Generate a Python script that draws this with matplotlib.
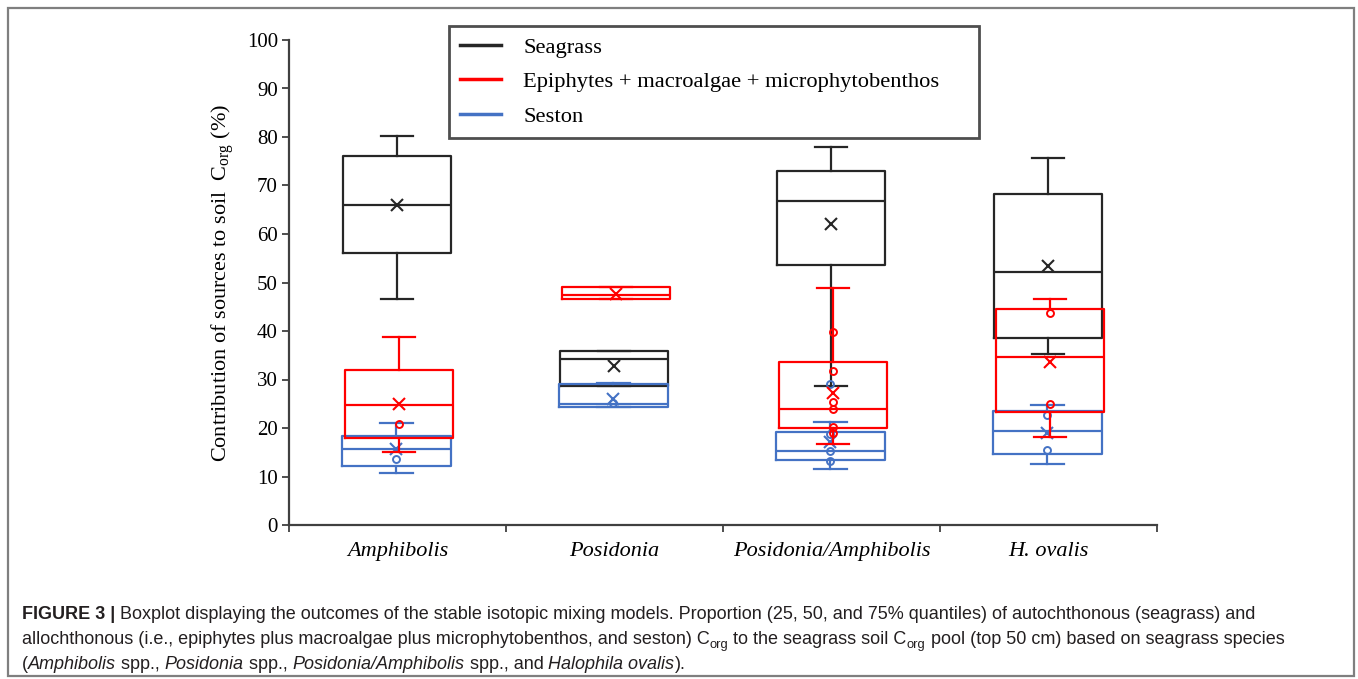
import matplotlib
matplotlib.use('Agg')
import matplotlib.pyplot as plt
from matplotlib.lines import Line2D
from matplotlib.patches import Rectangle
from matplotlib.transforms import IdentityTransform

plt.rcParams['font.family'] = 'Liberation Serif'
plt.rcParams['mathtext.fontset'] = 'custom'
plt.rcParams['mathtext.rm'] = 'Liberation Serif'
plt.rcParams['mathtext.it'] = 'Liberation Serif:italic'

species = ['Amphibolis', 'Posidonia', 'Posidonia/Amphibolis', 'H. ovalis']
sources = ['Seagrass', 'Epiphytes + macroalgae + microphytobenthos', 'Seston']

# values (%)
seagrass_lo = [46.6, 28.7, 28.7, 35.3]
seagrass_q1 = [56.1, 28.7, 53.6, 38.6]
seagrass_med = [65.9, 34.3, 66.9, 52.2]
seagrass_q3 = [76.1, 35.8, 73.0, 68.2]
seagrass_hi = [80.3, 35.8, 78.0, 75.6]
seagrass_mean = [66.0, 32.8, 62.1, 53.4]
seagrass_pts = [[], [], [], []]

epi_lo = [15.0, 46.5, 16.6, 18.1]
epi_q1 = [17.9, 46.5, 19.9, 23.4]
epi_med = [24.8, 47.4, 24.0, 34.6]
epi_q3 = [32.0, 49.0, 33.7, 44.6]
epi_hi = [38.8, 49.0, 48.9, 46.7]
epi_mean = [24.9, 47.7, 27.3, 33.7]
epi_pts = [[20.8], [], [39.7, 31.7, 25.4, 23.9, 20.3, 19.0], [43.8, 25.0]]

seston_lo = [10.7, 24.3, 11.5, 12.5]
seston_q1 = [12.2, 24.4, 13.3, 14.7]
seston_med = [15.6, 24.9, 15.3, 19.4]
seston_q3 = [18.4, 29.1, 19.2, 23.6]
seston_hi = [21.1, 29.3, 21.2, 24.7]
seston_mean = [15.7, 26.0, 17.2, 19.0]
seston_pts = [[13.7], [25.2], [29.1, 18.8, 15.3, 13.1], [22.7, 15.5]]

colors = ['#262626', '#ff0000', '#4472c4']

W, H = 1358, 679
fig = plt.figure(figsize=(W / 100, H / 100), dpi=100)
ax = fig.add_axes([289 / W, 1 - 525 / H, 868 / W, 485 / H])


def stats(lo, q1, med, q3, hi, mean, pts):
    out = []
    for i in range(len(lo)):
        out.append(dict(whislo=lo[i], q1=q1[i], med=med[i], q3=q3[i],
                        whishi=hi[i], mean=mean[i], fliers=pts[i]))
    return out


series = [
    stats(seagrass_lo, seagrass_q1, seagrass_med, seagrass_q3, seagrass_hi, seagrass_mean, seagrass_pts),
    stats(epi_lo, epi_q1, epi_med, epi_q3, epi_hi, epi_mean, epi_pts),
    stats(seston_lo, seston_q1, seston_med, seston_q3, seston_hi, seston_mean, seston_pts),
]
offsets = [0.498, 0.506, 0.495]
zorders = [3, 5, 4]

for s, c, off, z in zip(series, colors, offsets, zorders):
    pos = [i + off for i in range(len(species))]
    lw = 1.6
    ax.bxp(s, positions=pos, widths=0.5, capwidths=0.15, showmeans=True,
           showfliers=True, manage_ticks=False, zorder=z,
           boxprops=dict(color=c, linewidth=lw),
           medianprops=dict(color=c, linewidth=lw),
           whiskerprops=dict(color=c, linewidth=lw),
           capprops=dict(color=c, linewidth=lw),
           meanprops=dict(marker='x', markeredgecolor=c, markersize=9,
                          markeredgewidth=1.5, linestyle='none'),
           flierprops=dict(marker='o', markerfacecolor='none',
                           markeredgecolor=c, markersize=5,
                           markeredgewidth=1.4, linestyle='none'))

ax.set_xlim(0, 4)
ax.set_ylim(0, 100)
ax.set_yticks(range(0, 101, 10))
ax.set_xticks(range(0, 5))
ax.set_xticklabels([])
ax.set_xticks([i + 0.5 for i in range(len(species))], minor=True)
ax.set_xticklabels(species, minor=True, style='italic', fontsize=16)
ax.tick_params(axis='x', which='minor', length=0, pad=12)
ax.tick_params(axis='x', which='major', length=5, width=1.3, color='#404040')
ax.tick_params(axis='y', length=5, width=1.3, color='#404040', labelsize=15, pad=3)
for side in ['top', 'right']:
    ax.spines[side].set_visible(False)
for side in ['left', 'bottom']:
    ax.spines[side].set_color('#404040')
    ax.spines[side].set_linewidth(1.6)
ax.set_ylabel(r'Contribution of sources to soil  C$_{\mathrm{org}}$ (%)', fontsize=16, labelpad=8)

handles = [Line2D([], [], color=c, linewidth=2.5) for c in colors]
leg = fig.legend(handles, sources, loc='upper left',
                 bbox_to_anchor=(449 / W, 1 - 26 / H, 530 / W, 0), mode='expand',
                 fontsize=16.2, frameon=True, fancybox=False, borderpad=0.5,
                 handlelength=1.8, handletextpad=1.0, labelspacing=0.6,
                 borderaxespad=0)
leg.get_frame().set_edgecolor('#222222')
leg.get_frame().set_linewidth(2)

# outer frame
fig.patches.append(Rectangle((8 / W, 3 / H), 1346 / W, 668 / H, transform=fig.transFigure,
                             fill=False, edgecolor='#7f7f7f', linewidth=1.6))

# caption, written piece by piece
cap_font = ['Liberation Sans']
cap_size = 13.0
renderer = fig.canvas.get_renderer()


def advance(txt, **kw):
    a = fig.text(0, 0, txt + '.', transform=IdentityTransform(), **kw)
    b = fig.text(0, 0, '.', transform=IdentityTransform(), **kw)
    w = a.get_window_extent(renderer).width - b.get_window_extent(renderer).width
    a.remove()
    b.remove()
    return w


def caption_line(parts, x, y):
    for txt, style in parts:
        kw = dict(family=cap_font, size=cap_size, color='#231f20')
        dy = 0
        if style == 'b':
            kw['weight'] = 'bold'
        elif style == 'i':
            kw['style'] = 'italic'
        elif style == 's':
            kw['size'] = cap_size * 0.72
            dy = -4
        fig.text(x, y + dy, txt, transform=IdentityTransform(), va='baseline', **kw)
        x += advance(txt, **kw)


caption_line([('FIGURE 3 |', 'b'),
              (' Boxplot displaying the outcomes of the stable isotopic mixing models. '
               'Proportion (25, 50, and 75% quantiles) of autochthonous (seagrass) and', '')],
             22, H - 619)
caption_line([('allochthonous (i.e., epiphytes plus macroalgae plus microphytobenthos, and seston) C', ''),
              ('org', 's'), (' to the seagrass soil C', ''), ('org', 's'),
              (' pool (top 50 cm) based on seagrass species', '')],
             22, H - 644)
caption_line([('(', ''), ('Amphibolis', 'i'), (' spp., ', ''), ('Posidonia', 'i'),
              (' spp., ', ''), ('Posidonia/Amphibolis', 'i'), (' spp., and ', ''),
              ('Halophila ovalis', 'i'), (').', '')],
             22, H - 669)

fig.savefig('out.png', dpi=100)
